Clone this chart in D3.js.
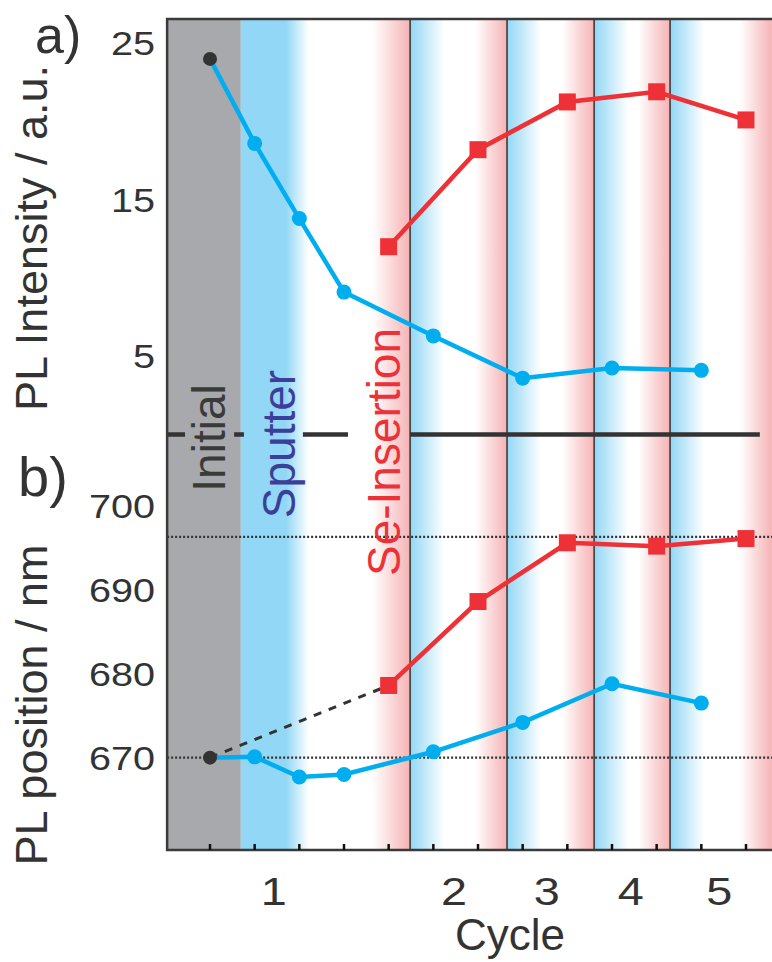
<!DOCTYPE html>
<html>
<head>
<meta charset="utf-8">
<script src="https://cdn.jsdelivr.net/npm/d3@7"></script>
<style>
  html, body { margin: 0; padding: 0; background: #fff; }
  svg { display: block; font-family: "Liberation Sans", Arial, sans-serif; }
</style>
</head>
<body>
<svg id="chart" width="772" height="962"></svg>
<script>
// ── Data ──────────────────────────────────
// x positions are step indices (0 = initial, then sputter / Se-insertion steps)
const stepIdx        = d3.range(0, 13);
const blueIdx        = [0, 1, 2, 3, 5, 7, 9, 11];
const redIdx         = [4, 6, 8, 10, 12];
const intensityBlue  = [24.0, 18.6, 13.8, 9.1, 6.3, 3.6, 4.25, 4.1];
const intensityRed   = [12.0, 18.2, 21.25, 21.9, 20.1];
const positionBlue   = [670.0, 670.1, 667.7, 668.0, 670.7, 674.2, 678.8, 676.5];
const positionRed    = [678.6, 688.6, 695.6, 695.2, 696.1];
const refLines       = [670, 696.3];
const topTicks       = [5, 15, 25];
const botTicks       = [670, 680, 690, 700];
const cycleEdges     = [-0.96, 0.69, 4.48, 6.65, 8.6, 10.3, 12.58];   // initial | c1 | c2 | c3 | c4 | c5
const cycleLabels    = ['1', '2', '3', '4', '5'];
const cycleLabelPos  = [1.43, 5.46, 7.54, 9.42, 11.4];
const dividerSegs    = [[-0.96, -0.56], [0.54, 0.76], [2.08, 3.09], [4.48, 12.31]];

// ── Colours ───────────────────────────────
const C_BLUE = '#00aeef', C_RED = '#ee3137', C_DARK = '#333333';
const C_GRAY = '#a8a9ac', C_SKY = '#92d7f5', C_PINK = '#f6b3b5';

const svg = d3.select('#chart');
const defs = svg.append('defs');

const x    = d3.scaleLinear().domain([0, 12]).range([210, 746]);
const yTop = d3.scaleLinear().domain([0, 26.55]).range([434.5, 19]);
const yBot = d3.scaleLinear().domain([659, 708.5]).range([850, 434.5]);
const Y0 = 19, Y1 = 850, XL = x(cycleEdges[0]), XR = 772;

// ── Background bands ──────────────────────
const bg = svg.append('g');
bg.append('rect')
  .attr('x', XL).attr('y', Y0)
  .attr('width', x(cycleEdges[1]) - XL).attr('height', Y1 - Y0)
  .attr('fill', C_GRAY);

for (let i = 1; i < cycleEdges.length - 1; i++) {
  const x0 = x(cycleEdges[i]), x1 = x(cycleEdges[i + 1]), w = x1 - x0;
  // cycle 1 has a long solid sputter part, the others just fade in/out at the edges
  const blueSolid = i === 1 ? 45 : 0;
  const blueFade  = i === 1 ? 68 : 34;
  const pinkStart = w - (i === 1 ? 38 : 32);
  const gid = 'band' + i;
  const gr = defs.append('linearGradient').attr('id', gid)
    .attr('x1', 0).attr('x2', 1).attr('y1', 0).attr('y2', 0);
  [[0, C_SKY], [blueSolid / w, C_SKY], [blueFade / w, '#ffffff'],
   [pinkStart / w, '#ffffff'], [1, C_PINK]].forEach(([o, c]) =>
    gr.append('stop').attr('offset', o).attr('stop-color', c));
  bg.append('rect')
    .attr('x', x0).attr('y', Y0).attr('width', w).attr('height', Y1 - Y0)
    .attr('fill', `url(#${gid})`);
}

// cycle separators
svg.append('g').selectAll('line')
  .data(cycleEdges.slice(2, -1))
  .join('line')
  .attr('x1', d => x(d)).attr('x2', d => x(d))
  .attr('y1', Y0).attr('y2', Y1)
  .attr('stroke', '#3c3c3c').attr('stroke-width', 1.6);

// dotted reference lines (panel b)
svg.append('g').selectAll('line')
  .data(refLines)
  .join('line')
  .attr('x1', XL).attr('x2', XR)
  .attr('y1', d => yBot(d)).attr('y2', d => yBot(d))
  .attr('stroke', C_DARK).attr('stroke-width', 2.2)
  .attr('stroke-dasharray', '2,2');

// panel divider, broken around the phase labels
svg.append('g').selectAll('line')
  .data(dividerSegs)
  .join('line')
  .attr('x1', d => x(d[0])).attr('x2', d => x(d[1]))
  .attr('y1', yTop(0)).attr('y2', yTop(0))
  .attr('stroke', C_DARK).attr('stroke-width', 4.5);

// ── Phase labels (rotated) ────────────────
const phases = [
  { text: 'Initial',      bx: 225, cy: 438, fill: '#3a3a3a' },
  { text: 'Sputter',      bx: 295, cy: 444, fill: '#3b3f99' },
  { text: 'Se-Insertion', bx: 400, cy: 452, fill: '#ec3238' }
];
svg.append('g').selectAll('text')
  .data(phases)
  .join('text')
  .attr('transform', d => `translate(${d.bx},${d.cy}) rotate(-90)`)
  .attr('text-anchor', 'middle')
  .attr('font-size', 46)
  .attr('fill', d => d.fill)
  .text(d => d.text);

// ── Frame & ticks ─────────────────────────
const frame = svg.append('g').attr('stroke', '#3a3a3a').attr('stroke-width', 2.5).attr('fill', 'none');
frame.append('path').attr('d', `M${XR},${Y0} H${XL} V${Y1} H${XR}`);

svg.append('g').selectAll('line')
  .data(stepIdx)
  .join('line')
  .attr('x1', d => x(d)).attr('x2', d => x(d))
  .attr('y1', Y1).attr('y2', Y1 - 6)
  .attr('stroke', '#111').attr('stroke-width', 2.5);

// ── Series ────────────────────────────────
const line = (ys, vals, idx) => d3.line().x((d, i) => x(idx[i])).y(d => ys(d))(vals);

function drawPanel(ys, blueVals, redVals, dashed) {
  const g = svg.append('g');
  if (dashed) {
    g.append('path')
      .attr('d', d3.line()([[x(blueIdx[0]), ys(blueVals[0])], [x(redIdx[0]), ys(redVals[0])]]))
      .attr('stroke', C_DARK).attr('stroke-width', 3).attr('stroke-dasharray', '8,8')
      .attr('fill', 'none');
  }
  g.append('path').attr('d', line(ys, blueVals, blueIdx))
    .attr('stroke', C_BLUE).attr('stroke-width', 4.5).attr('fill', 'none');
  g.append('path').attr('d', line(ys, redVals, redIdx))
    .attr('stroke', C_RED).attr('stroke-width', 4.5).attr('fill', 'none');
  g.selectAll('circle')
    .data(blueVals)
    .join('circle')
    .attr('cx', (d, i) => x(blueIdx[i])).attr('cy', d => ys(d))
    .attr('r', (d, i) => i === 0 ? 7 : 7.5)
    .attr('fill', (d, i) => i === 0 ? C_DARK : C_BLUE);
  g.selectAll('rect')
    .data(redVals)
    .join('rect')
    .attr('x', (d, i) => x(redIdx[i]) - 8.5).attr('y', d => ys(d) - 8.5)
    .attr('width', 17).attr('height', 17)
    .attr('fill', C_RED);
}
drawPanel(yTop, intensityBlue, intensityRed, false);
drawPanel(yBot, positionBlue, positionRed, true);

// ── Axis labels ───────────────────────────
const tickLbl = (vals, ys) => svg.append('g').selectAll('text')
  .data(vals)
  .join('text')
  .attr('transform', d => `translate(155,${ys(d)}) scale(1.2,1)`)
  .attr('text-anchor', 'end').attr('dy', '0.36em')
  .attr('font-size', 33).attr('fill', C_DARK)
  .text(d => d);
tickLbl(topTicks, yTop);
tickLbl(botTicks, yBot);

svg.append('g').selectAll('text')
  .data(cycleLabels)
  .join('text')
  .attr('transform', (d, i) => `translate(${x(cycleLabelPos[i])},905) scale(1.2,1)`)
  .attr('text-anchor', 'middle')
  .attr('font-size', 39).attr('fill', C_DARK)
  .text(d => d);

svg.append('text')
  .attr('x', 510).attr('y', 950)
  .attr('text-anchor', 'middle')
  .attr('font-size', 44).attr('fill', C_DARK)
  .text('Cycle');

svg.append('text')
  .attr('transform', 'translate(47,238) rotate(-90)')
  .attr('text-anchor', 'middle')
  .attr('font-size', 45).attr('fill', C_DARK)
  .text('PL Intensity / a.u.');

svg.append('text')
  .attr('transform', 'translate(47,705) rotate(-90)')
  .attr('text-anchor', 'middle')
  .attr('font-size', 45).attr('fill', C_DARK)
  .text('PL position / nm');

svg.append('text')
  .attr('x', 35).attr('y', 53)
  .attr('font-size', 52).attr('fill', C_DARK)
  .text('a)');

svg.append('text')
  .attr('x', 18).attr('y', 496)
  .attr('font-size', 56).attr('fill', C_DARK)
  .text('b)');
</script>
</body>
</html>
